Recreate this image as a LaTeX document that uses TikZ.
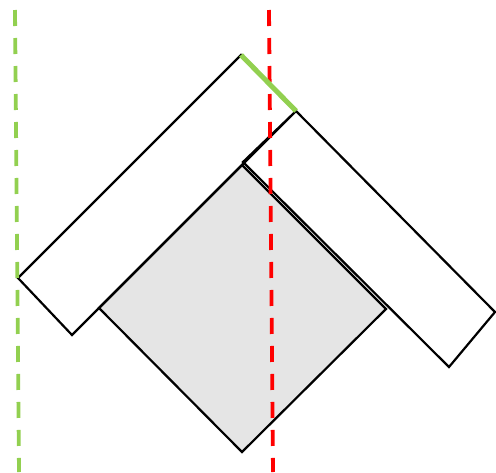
\documentclass[tikz,border=0pt]{standalone}
\definecolor{leafgreen}{RGB}{146,208,80}
\begin{document}
\begin{tikzpicture}[x=1pt,y=-1pt,
  outline/.style={line width=2.2pt,line join=miter},
  axisline/.style={line width=3.8pt,dash pattern=on 16pt off 12pt}]
\useasboundingbox (0,0) rectangle (496,472);
% corners of the square and the two slabs
\coordinate (sqT) at (242,165); \coordinate (sqL) at (99,308);
\coordinate (sqB) at (242,452); \coordinate (sqR) at (386,309);
\coordinate (lT) at (241,55);   \coordinate (lL) at (18,278);
\coordinate (lB) at (72,335);   \coordinate (lR) at (296,111);
\coordinate (rR) at (495,312);  \coordinate (rB) at (449,367);
\coordinate (rL) at (243,162);
\filldraw[outline,fill=gray!20] (sqT) -- (sqL) -- (sqB) -- (sqR) -- cycle;
\draw[outline] (lT) -- (lL) -- (lB) -- (lR) -- cycle
               (lR) -- (rR) -- (rB) -- (rL) -- cycle;
% the two axes
\coordinate (redtop) at (269,10);  \coordinate (redbot) at (273,472);
\coordinate (grntop) at (15,10);   \coordinate (grnbot) at (19,472);
\draw[axisline,red] (redtop) -- (redbot);
\draw[axisline,leafgreen] (grntop) -- (grnbot);
\draw[leafgreen,line width=5pt] (lT) -- (lR);
\end{tikzpicture}
\end{document}
